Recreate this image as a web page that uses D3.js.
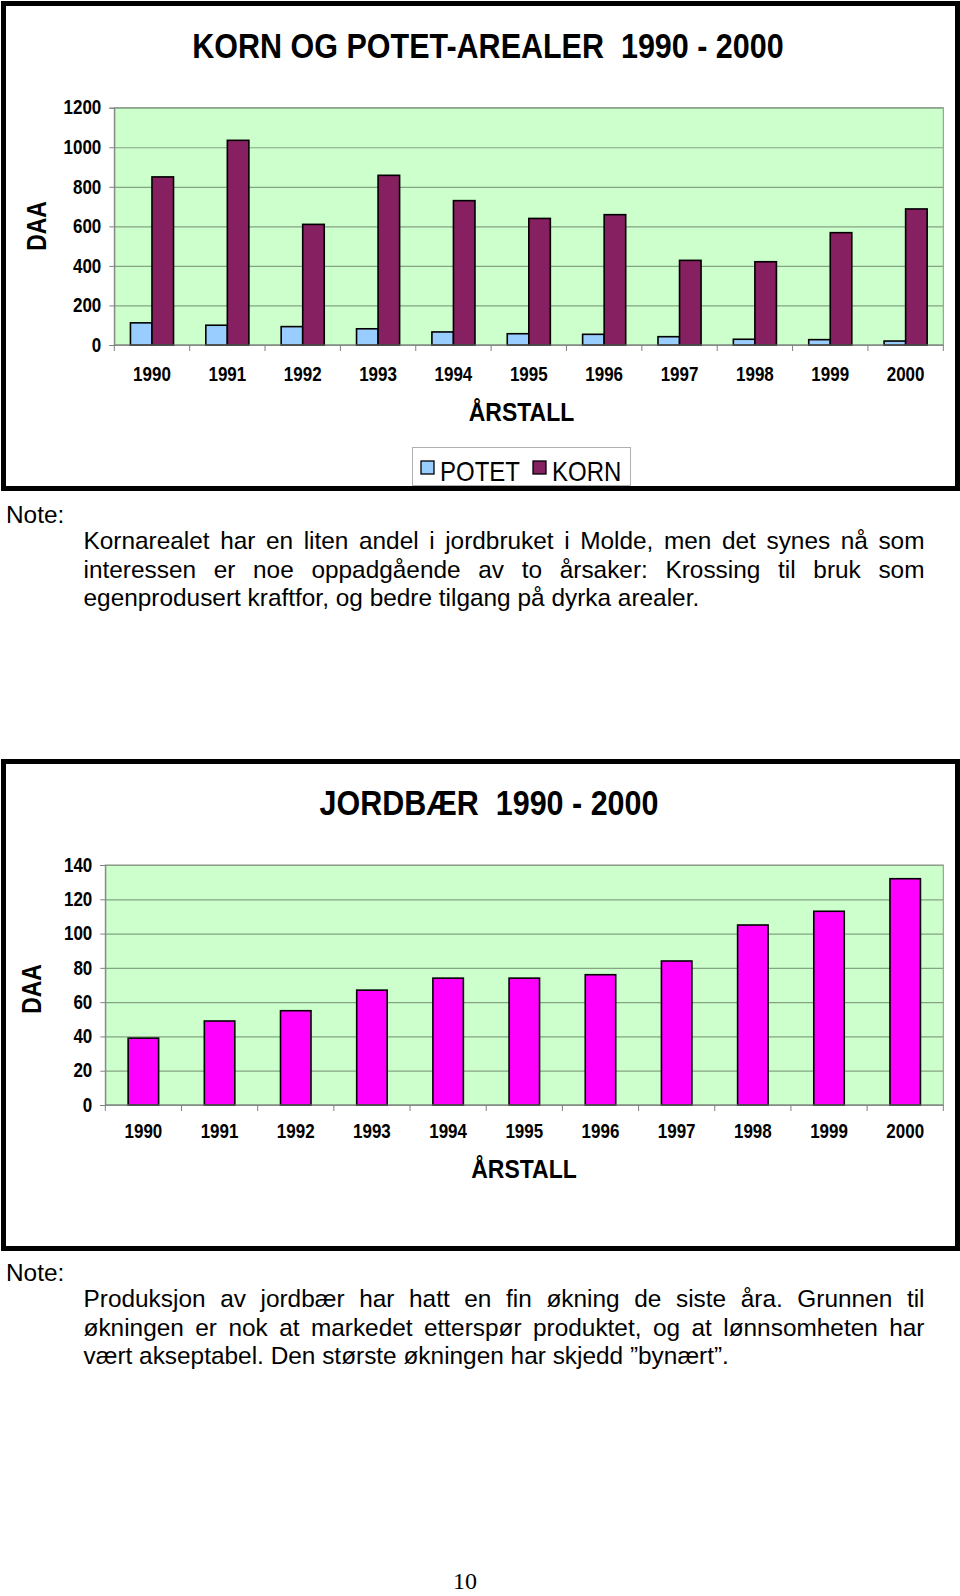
<!DOCTYPE html>
<html>
<head>
<meta charset="utf-8">
<script src="https://cdn.jsdelivr.net/npm/d3@7"></script>
<style>
  body { margin: 0; background: #fff; }
  svg { display: block; }
  text { font-family: "Liberation Sans", Arial, Helvetica, sans-serif; fill: #000; white-space: pre; }
</style>
</head>
<body>
<script>
// data
var years = ["1990", "1991", "1992", "1993", "1994", "1995", "1996", "1997", "1998", "1999", "2000"];
var potet = [112, 100, 93, 82, 66, 57, 54, 42, 29, 27, 20];
var korn = [850, 1035, 610, 858, 730, 640, 659, 428, 421, 568, 688];
var jordbaer = [39, 49, 55, 67, 74, 74, 76, 84, 105, 113, 132];
var kornTicks = [0, 200, 400, 600, 800, 1000, 1200];
var jordTicks = [0, 20, 40, 60, 80, 100, 120, 140];
var series = ["POTET", "KORN"];

var note1 = [
  "Kornarealet har en liten andel i jordbruket i Molde, men det synes nå som",
  "interessen er noe oppadgående av to årsaker: Krossing til bruk som",
  "egenprodusert kraftfor, og bedre tilgang på dyrka arealer."
];
var note2 = [
  "Produksjon av jordbær har hatt en fin økning de siste åra. Grunnen til",
  "økningen er nok at markedet etterspør produktet, og at lønnsomheten har",
  "vært akseptabel. Den største økningen har skjedd \u201Dbynært\u201D."
];

var SY = 1.15;   // chart pictures are a bit stretched vertically on the page
var colors = { POTET: "#99ccff", KORN: "#862060" };

var svg = d3.select("body").append("svg")
  .attr("width", 960)
  .attr("height", 1596);

function label(x, y, s, size, bold, anchor, rot, sy) {
  return svg.append("text")
    .attr("transform", "translate(" + x + "," + y + ") scale(1," + (sy || SY) + ")" + (rot ? " rotate(-90)" : ""))
    .attr("text-anchor", anchor || "middle")
    .style("font-size", size + "px")
    .style("font-weight", bold ? "bold" : "normal")
    .text(s);
}

// measure a word at a given size
var meas = svg.append("text").style("font-size", "24.4px").attr("opacity", 0);
function wordWidth(w) { meas.text(w); return meas.node().getComputedTextLength(); }

// justified lines, last one left aligned
function paragraph(lines, x0, x1, y0, lh) {
  var spaceW = wordWidth("a a") - wordWidth("aa");
  lines.forEach(function (ln, i) {
    var words = ln.split(" ");
    var w = words.map(wordWidth);
    var last = i == lines.length - 1;
    var gap = last ? spaceW : (x1 - x0 - d3.sum(w)) / (words.length - 1);
    var t = svg.append("text")
      .attr("y", y0 + i * lh)
      .style("font-size", "24.4px");
    var xx = x0;
    t.selectAll("tspan").data(words).join("tspan")
      .attr("x", function (d, j) { var v = xx; xx += w[j] + gap; return v; })
      .text(function (d, j) { return j < words.length - 1 ? d + " " : d; });
  });
}

function frame(y, h) {
  svg.append("rect")
    .attr("x", 3.5).attr("y", y)
    .attr("width", 954).attr("height", h)
    .attr("fill", "none").attr("stroke", "#000").attr("stroke-width", 5);
}

function plotBase(L, R, T, B, y, ticks) {
  svg.append("rect")
    .attr("x", L).attr("y", T).attr("width", R - L).attr("height", B - T)
    .attr("fill", "#ccffcc").attr("stroke", "#8c8c8c").attr("stroke-width", 1);

  var grid = svg.append("g").attr("transform", "translate(" + L + ",0)")
    .call(d3.axisLeft(y).tickValues(ticks).tickSize(-(R - L)).tickFormat(""));
  grid.select(".domain").remove();
  grid.selectAll("line").attr("stroke", "#84a484").attr("stroke-width", 1.2);

  var ax = svg.append("g").attr("transform", "translate(" + L + ",0)")
    .call(d3.axisLeft(y).tickValues(ticks).tickSize(5).tickPadding(8).tickFormat(d3.format("d")));
  ax.select(".domain").attr("stroke", "#808080");
  ax.selectAll("line").attr("stroke", "#808080");
  ax.selectAll("text")
    .style("font-size", "17px").style("font-weight", "bold")
    .style("font-family", "'Liberation Sans', Arial, sans-serif")
    .attr("fill", "#000")
    .attr("transform", "scale(1," + SY + ")");
}

function xAxis(x, yBase, labelOff) {
  var step = x.step();
  var off = step * x.paddingOuter();
  var bounds = years.map(function (d) { return x(d) - off; }).concat([x(years[years.length - 1]) - off + step]);
  svg.append("line")
    .attr("x1", bounds[0]).attr("x2", bounds[bounds.length - 1])
    .attr("y1", yBase).attr("y2", yBase)
    .attr("stroke", "#808080").attr("stroke-width", 1.2);
  svg.selectAll(null).data(bounds).join("line")
    .attr("x1", function (d) { return d; }).attr("x2", function (d) { return d; })
    .attr("y1", yBase).attr("y2", yBase + 6)
    .attr("stroke", "#808080");
  years.forEach(function (d) {
    label(x(d) + x.bandwidth() / 2, yBase + labelOff, d, 17, true);
  });
}

// ---------- chart 1: KORN OG POTET ----------
frame(3.5, 485);
label(488, 57.5, "KORN OG POTET-AREALER  1990 - 2000", 30.5, true);

var L1 = 114.3, R1 = 943.3, T1 = 107.7, B1 = 345;
var y1 = d3.scaleLinear().domain([0, 1200]).range([B1, T1]);
var x1 = d3.scaleBand().domain(years).range([L1, R1]).paddingInner(0).paddingOuter(0);
var xs = d3.scaleBand().domain(series).range([0, x1.bandwidth()]).paddingInner(0).paddingOuter(0.75);

plotBase(L1, R1, T1, B1, y1, kornTicks);

var rows = years.map(function (d, i) { return { year: d, POTET: potet[i], KORN: korn[i] }; });
svg.append("g").selectAll("g").data(rows).join("g")
  .attr("transform", function (d) { return "translate(" + x1(d.year) + ",0)"; })
  .selectAll("rect")
  .data(function (d) { return series.map(function (s) { return { s: s, v: d[s] }; }); })
  .join("rect")
  .attr("x", function (d) { return xs(d.s); })
  .attr("width", xs.bandwidth())
  .attr("y", function (d) { return y1(d.v); })
  .attr("height", function (d) { return B1 - y1(d.v); })
  .attr("fill", function (d) { return colors[d.s]; })
  .attr("stroke", "#000").attr("stroke-width", 1.6);

xAxis(x1, B1, 35.8);

label(521.5, 420.5, "ÅRSTALL", 23, true);
label(45.5, 226, "DAA", 27, true, "middle", true, 0.85);

// legend
svg.append("rect")
  .attr("x", 412.5).attr("y", 447.5).attr("width", 218).attr("height", 38)
  .attr("fill", "#fff").attr("stroke", "#b0b0b0").attr("stroke-width", 1);
var lg = [{ s: "POTET", x: 421 }, { s: "KORN", x: 533 }];
lg.forEach(function (d) {
  svg.append("rect").attr("x", d.x).attr("y", 461).attr("width", 13).attr("height", 13)
    .attr("fill", colors[d.s]).attr("stroke", "#000").attr("stroke-width", 1.3);
  label(d.x + 19, 480.5, d.s, 24, false, "start");
});

// note 1
label(6, 522.5, "Note:", 24.4, false, "start", false, 1);
paragraph(note1, 83.5, 924.5, 549, 28.5);

// ---------- chart 2: JORDBÆR ----------
frame(761.5, 487);
label(489, 814.5, "JORDBÆR  1990 - 2000", 30.5, true);

var L2 = 105.3, R2 = 943.3, T2 = 865, B2 = 1105;
var y2 = d3.scaleLinear().domain([0, 140]).range([B2, T2]);
var x2 = d3.scaleBand().domain(years).range([L2, R2]).paddingInner(0.6).paddingOuter(0.3);

plotBase(L2, R2, T2, B2, y2, jordTicks);

svg.append("g").selectAll("rect").data(jordbaer).join("rect")
  .attr("x", function (d, i) { return x2(years[i]); })
  .attr("width", x2.bandwidth())
  .attr("y", function (d) { return y2(d); })
  .attr("height", function (d) { return B2 - y2(d); })
  .attr("fill", "#ff00ff")
  .attr("stroke", "#000").attr("stroke-width", 1.6);

xAxis(x2, B2, 32.8);

label(524, 1178, "ÅRSTALL", 23, true);
label(41, 989, "DAA", 27, true, "middle", true, 0.85);

// note 2
label(6, 1281, "Note:", 24.4, false, "start", false, 1);
paragraph(note2, 83.5, 924.5, 1307, 28.5);

// page number
svg.append("text")
  .attr("x", 465).attr("y", 1589)
  .attr("text-anchor", "middle")
  .style("font-family", "'Liberation Serif', 'Times New Roman', serif")
  .style("font-size", "24px")
  .text("10");

meas.remove();
</script>
</body>
</html>
